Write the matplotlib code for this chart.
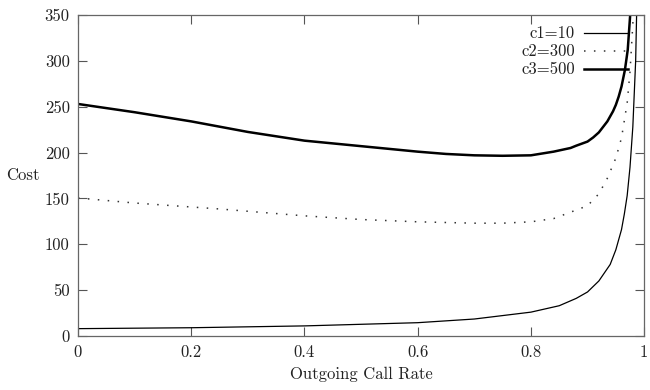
import matplotlib.pyplot as plt

plt.rcParams['font.family'] = ['cmr10', 'DejaVu Serif']
plt.rcParams['axes.unicode_minus'] = False

# values
x1 = [0, 0.2, 0.4, 0.6, 0.7, 0.8, 0.85, 0.88, 0.9, 0.92, 0.94, 0.95, 0.96,
      0.965, 0.97, 0.975, 0.98, 0.985, 0.99]
c1 = [8, 9, 11, 14.5, 18.5, 26, 33, 41, 48, 60, 78, 94, 116,
      133, 153, 184, 228, 300, 450]

x2 = [0, 0.1, 0.25, 0.4, 0.5, 0.6, 0.7, 0.75, 0.8, 0.84, 0.87, 0.9, 0.92,
      0.935, 0.95, 0.96, 0.97, 0.975, 0.98, 0.985]
c2 = [150.5, 145, 138.5, 131, 127, 124.5, 123, 123, 124.5, 128, 135, 142, 155,
      172, 194, 216, 254, 288, 340, 420]

x3 = [0, 0.1, 0.2, 0.3, 0.4, 0.5, 0.55, 0.6, 0.65, 0.7, 0.75, 0.8, 0.84, 0.87,
      0.88, 0.9, 0.91, 0.92, 0.935, 0.945, 0.95, 0.955, 0.96, 0.966, 0.971,
      0.976, 0.98]
c3 = [253, 244, 234, 222.5, 213, 207, 204, 201, 198.5, 197, 196.5, 197, 201, 205,
      207.5, 212, 216.5, 222, 234, 245, 252, 261, 272, 290, 312,
      356, 420]

labels = ['c1=10', 'c2=300', 'c3=500']
xticks = [0, 0.2, 0.4, 0.6, 0.8, 1]
xticklabels = ['0', '0.2', '0.4', '0.6', '0.8', '1']
yticks = [0, 50, 100, 150, 200, 250, 300, 350]

fs = 12
fig = plt.figure(figsize=(6.5, 3.9), dpi=100)
ax = fig.add_axes([0.12, 0.1385, 0.871, 0.823])

styles = [dict(color='black', lw=0.9, ls='-'),
          dict(color='#333333', lw=1.1, ls=(0, (1, 5.5))),
          dict(color='black', lw=1.8, ls='-')]
series = [(x1, c1), (x2, c2), (x3, c3)]

for (xs, ys), st in zip(series, styles):
    ax.plot(xs, ys, **st)

# gnuplot style key, right aligned text
key_y = [0.943, 0.888, 0.832]
for lab, st, ky in zip(labels, styles, key_y):
    ax.text(0.878, ky, lab, transform=ax.transAxes, ha='right', va='center',
            fontsize=fs, color='#222222')
    ax.plot([0.893, 0.972], [ky, ky], transform=ax.transAxes, **st)

ax.set_xlim(0, 1)
ax.set_ylim(0, 350)
ax.set_xticks(xticks)
ax.set_xticklabels(xticklabels)
ax.set_yticks(yticks)
ax.tick_params(direction='in', length=6.5, width=0.8, color='#555555',
               top=True, right=True, labelsize=fs, labelcolor='#222222', pad=6)
for sp in ax.spines.values():
    sp.set_color('#666666')
    sp.set_linewidth(0.9)

ax.set_xlabel('Outgoing Call Rate', fontsize=fs, color='#222222', labelpad=5)
ax.set_ylabel('Cost', fontsize=fs, color='#222222', rotation=0, labelpad=16,
              va='center')

fig.savefig('out.png', dpi=100)
